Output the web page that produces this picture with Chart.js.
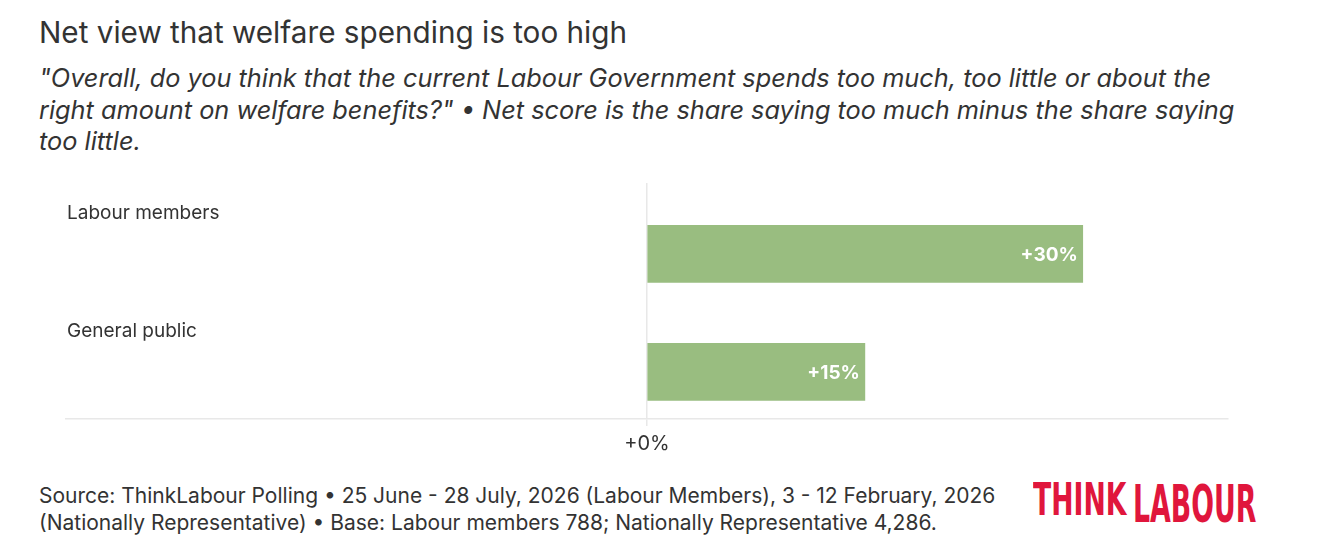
<!DOCTYPE html>
<html lang="en">
<head>
  <meta charset="UTF-8">
  <title>Net view that welfare spending is too high</title>
  <script src="https://cdn.jsdelivr.net/npm/chart.js@4.4.0"></script>
  <style>
    body {
      margin: 0;
      width: 1325px;
      height: 555px;
      background: #fff;
      font-family: Inter, "Noto Sans", sans-serif;
      color: #333;
      position: relative;
      overflow: hidden;
    }
    h1 {
      position: absolute;
      left: 39px;
      top: 14px;
      margin: 0;
      font-size: 29.7px;
      font-weight: 400;
      line-height: 36px;
    }
    .subtitle {
      position: absolute;
      left: 39px;
      top: 62px;
      width: 1200px;
      margin: 0;
      font-size: 25.3px;
      font-style: italic;
      line-height: 31.5px;
    }
    .chart-wrap {
      position: absolute;
      left: 0;
      top: 160px;
      width: 1325px;
      height: 310px;
    }
    .source {
      position: absolute;
      left: 39px;
      top: 482px;
      margin: 0;
      font-size: 21px;
      line-height: 27px;
    }
    .logo {
      position: absolute;
      left: 1033px;
      top: 474px;
      color: #e0163c;
      font-family: "Liberation Sans Narrow", "DejaVu Sans Condensed", sans-serif;
      font-weight: 700;
      white-space: nowrap;
    }
    .logo span { display: inline-block; transform-origin: left bottom; }
    .logo .think { font-size: 44px; transform: scaleX(0.673); }
    .logo .labour { font-size: 51px; transform: scaleX(0.584); position: absolute; left: 100px; top: 1px; }
  </style>
</head>
<body>
  <h1>Net view that welfare spending is too high</h1>
  <p class="subtitle">"Overall, do you think that the current Labour Government spends too much, too little or about the right amount on welfare benefits?" &bull; Net score is the share saying too much minus the share saying too little.</p>
  <div class="chart-wrap">
    <canvas id="chart"></canvas>
  </div>
  <p class="source">Source: ThinkLabour Polling &bull; 25 June - 28 July, 2026 (Labour Members), 3 - 12 February, 2026<br>(Nationally Representative) &bull; Base: Labour members 788; Nationally Representative 4,286.</p>
  <div class="logo"><span class="think">THINK</span><span class="labour">LABOUR</span></div>

  <script>
    const categories = ['Labour members', 'General public'];
    const netScores = [30, 15];
    const tickValues = [0];

    const fmt = v => (v >= 0 ? '+' : '') + v + '%';

    // category names sit above each bar, at the left edge of the plot
    const rowLabels = {
      id: 'rowLabels',
      afterDatasetsDraw(chart) {
        const ctx = chart.ctx;
        const meta = chart.getDatasetMeta(0);
        ctx.save();
        ctx.font = '19px Inter, "Noto Sans", sans-serif';
        ctx.fillStyle = '#333';
        ctx.textAlign = 'left';
        ctx.textBaseline = 'middle';
        meta.data.forEach((bar, i) => {
          const top = bar.y - bar.height / 2;
          ctx.fillText(categories[i], chart.chartArea.left + 1, top - 12);
        });
        // value labels inside bar ends
        ctx.font = 'bold 19px Inter, "Noto Sans", sans-serif';
        ctx.fillStyle = '#fff';
        ctx.textAlign = 'right';
        meta.data.forEach((bar, i) => {
          ctx.fillText(fmt(netScores[i]), bar.x - 5, bar.y + 1);
        });
        ctx.restore();
      }
    };

    new Chart(document.getElementById('chart'), {
      type: 'bar',
      data: {
        datasets: [{
          data: netScores.map((v, i) => ({ x: v, y: i })),
          backgroundColor: '#99bd80',
          barThickness: 57
        }]
      },
      options: {
        indexAxis: 'y',
        responsive: true,
        maintainAspectRatio: false,
        animation: false,
        layout: { padding: { left: 66, right: 97, top: 23, bottom: 8 } },
        plugins: {
          legend: { display: false },
          tooltip: { enabled: false }
        },
        scales: {
          y: {
            type: 'linear',
            display: false,
            reverse: true,
            offset: false,
            min: -0.6,
            max: 1.4
          },
          x: {
            min: -40,
            max: 40,
            afterBuildTicks: scale => { scale.ticks = tickValues.map(v => ({ value: v })); },
            grid: { color: '#e8e8e8', lineWidth: 1.5, tickLength: 7 },
            border: { display: true, color: '#e8e8e8', width: 1.5 },
            ticks: {
              color: '#333',
              font: { family: 'Inter, "Noto Sans", sans-serif', size: 20 },
              padding: 6,
              callback: v => fmt(v)
            }
          }
        }
      },
      plugins: [rowLabels]
    });
  </script>
</body>
</html>
